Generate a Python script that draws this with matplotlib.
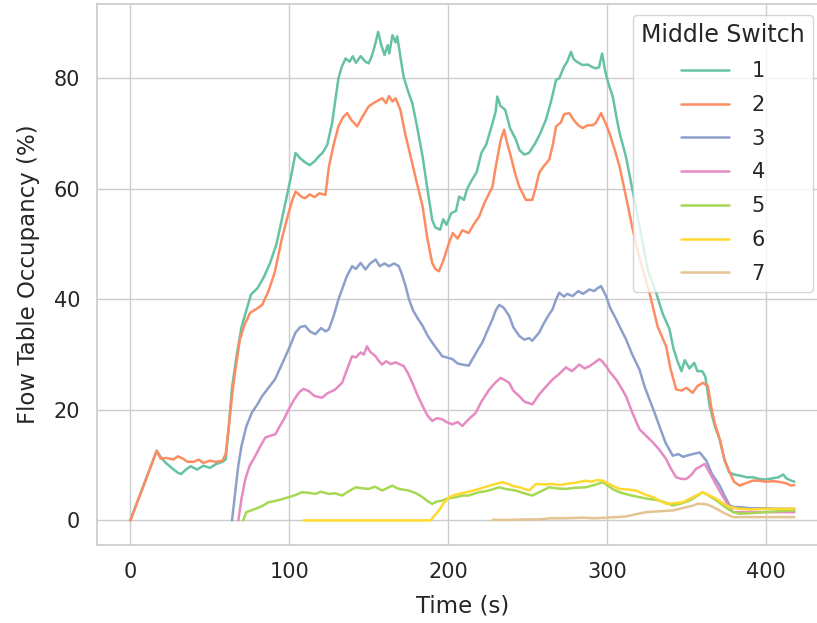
import matplotlib
matplotlib.use('Agg')
import matplotlib.pyplot as plt
import seaborn as sns

# flow table occupancy per middle switch
t1 = [0, 16.6, 19, 22, 26, 30, 32, 35, 38, 42, 46, 50, 54, 58, 60, 62, 64, 67, 70, 73, 76, 80, 84, 88, 92, 95, 98, 101, 104, 107, 110, 113, 116, 119, 121, 124, 127, 129, 131, 133, 135.5, 138, 140, 142, 145, 148, 150, 152, 154, 156, 158, 160, 162, 163, 165, 167, 168, 170, 172, 175, 177.5, 180, 184, 187, 190, 192, 195, 197, 199, 202, 205, 207, 210, 212, 215, 218, 221, 224, 228, 230, 231, 233, 236, 239, 242.7, 245, 248, 251, 255, 258, 261.6, 265, 268, 270, 273, 275, 277.4, 279, 281, 284.7, 288, 291, 293, 295, 297, 299, 301, 303.7, 306, 308, 312, 314, 318, 322, 326, 331, 335, 339.4, 342, 344.7, 347, 349, 352, 355, 357, 360, 362, 364.7, 368, 371, 374, 377, 380, 384, 388, 392, 396, 400, 404, 408, 411, 413, 416, 418]
v1 = [0, 12.6, 11.5, 10.5, 9.5, 8.6, 8.4, 9.2, 9.8, 9.2, 9.9, 9.5, 10.2, 10.6, 11, 17, 24, 30, 35, 38, 40.9, 42, 44, 46.6, 50, 54, 58, 62, 66.5, 65.5, 64.8, 64.3, 65, 66, 66.5, 68, 71.9, 76, 80, 82, 83.6, 83, 84, 82.8, 84, 83, 82.7, 84, 86, 88.4, 86, 84.2, 86, 84.5, 87.8, 86.5, 87.6, 84, 80.3, 77.5, 75.5, 72, 65.8, 60, 54.4, 53, 52.6, 54.5, 53.5, 55.6, 56, 58.6, 58, 60, 61.6, 63, 66.5, 68, 71.9, 74, 76.7, 75, 74.3, 71, 68.9, 67, 66.2, 66.5, 68.3, 70, 72.5, 76, 79.7, 80, 82.1, 83, 84.8, 83.5, 83, 82.4, 82.5, 82, 81.8, 82, 84.5, 81.2, 79, 76.7, 73, 70.1, 65.8, 62.9, 57, 51, 45, 41.2, 37.5, 34.6, 31, 28.6, 27, 29, 27.5, 28.5, 27, 27, 26, 20.7, 17, 14.7, 11, 8.7, 8.3, 8.1, 7.8, 7.8, 7.5, 7.4, 7.6, 7.8, 8.3, 7.6, 7.2, 7]

t2 = [0, 16.6, 19, 23, 27, 30, 33, 36, 40, 43, 46, 50, 54, 58, 60, 62, 64, 66, 69, 72, 75.5, 79, 83, 87, 91, 95, 99, 102, 104, 106, 108, 110, 113, 116, 119, 122.8, 125, 128, 131, 134, 136.5, 139, 142.8, 146, 150, 153, 156, 158.5, 161, 162.8, 165, 167, 170, 173, 176.5, 180, 184, 187, 190, 192, 194.3, 197, 200.6, 203, 206, 209, 213, 216, 219.6, 223, 228, 230, 233.2, 235.3, 237, 239.6, 242, 244.8, 249, 253, 255, 257.4, 260, 263.7, 266, 268, 271, 273, 276.3, 279, 282, 284.7, 288, 291, 293, 296.3, 299, 301.6, 305, 308, 312, 316, 320, 326.8, 332, 337.3, 340, 343.6, 347, 350, 354, 357, 360.4, 363.6, 366, 368, 371, 374, 377.3, 380, 383.6, 388, 392, 396, 400, 405, 410, 413, 416, 418]
v2 = [0, 12.6, 11.2, 11.3, 11, 11.6, 11.2, 10.6, 10.6, 11, 10.4, 10.8, 10.6, 10.8, 12, 17, 22.5, 27, 32.8, 35.5, 37.6, 38.2, 39, 41.5, 45, 50.5, 55, 58, 59.5, 59, 58.5, 58.3, 59, 58.5, 59.2, 58.9, 64, 68, 71.3, 73, 73.7, 72.5, 71.3, 73, 74.9, 75.5, 76, 76.4, 75.5, 76.8, 75.8, 76.4, 74.3, 70, 65.8, 61.5, 56.8, 51, 46.6, 45.5, 45.1, 47, 50.2, 52, 51, 52.5, 52, 53.5, 55, 57.5, 60.4, 64, 68.9, 70.7, 68.5, 65.8, 63, 60.4, 58, 58, 60, 62.9, 64, 65.3, 68, 71.3, 72, 73.5, 73.7, 72.5, 71.5, 71, 71.5, 71.5, 71.9, 73.7, 72, 70.1, 67, 64, 58.6, 53, 48, 41.2, 35, 31.5, 27.5, 23.7, 23.5, 24, 23.1, 24.3, 24.9, 24.3, 20, 17.5, 14.7, 11, 8.7, 7, 6.3, 6.8, 7.2, 7.2, 7.0, 7.1, 6.9, 6.7, 6.3, 6.4]

t3 = [64, 66, 68, 70, 73, 76.5, 80, 83, 87, 91, 95, 99.7, 104, 107, 110, 113, 116.5, 120, 123, 125, 128, 131, 133.3, 136, 139.6, 142, 145, 148, 151, 154.4, 157, 160, 162.8, 166, 169, 171, 173.3, 175.4, 178, 181, 184, 187, 190, 193, 196.4, 199, 202.7, 206, 209, 213, 216, 219, 221.6, 225, 228, 230, 232.2, 235, 238.5, 241, 244.8, 248, 251, 253, 257.4, 260, 263, 265.8, 268, 270, 273, 275, 278.4, 282, 285, 289, 292, 294, 296.3, 299.5, 302, 305.8, 309, 312, 316, 320.5, 324, 326.8, 330, 333, 337, 341.5, 345, 348, 350, 354, 358.4, 362.6, 366, 371, 374, 377.3, 380, 383.6, 390, 400, 410, 418]
v3 = [0, 5, 10, 13.5, 17, 19.5, 21, 22.5, 24, 25.5, 28, 31, 34, 35, 35.2, 34.2, 33.7, 34.8, 34.2, 34.6, 37, 40, 41.8, 44, 46, 45.5, 46.6, 45.4, 46.5, 47.2, 46, 46.5, 46, 46.5, 46, 44.5, 42.4, 40, 38, 36.5, 35.2, 33.5, 32.2, 31, 29.7, 29.5, 29.2, 28.4, 28.2, 28, 29.5, 31, 32.2, 34.5, 36.4, 38, 39, 38.5, 37, 35, 33.4, 32.7, 33, 32.5, 34, 35.5, 37, 38.2, 40, 41.2, 40.5, 41, 40.6, 41.5, 41, 41.8, 41.5, 42, 42.4, 40.6, 38.5, 36.4, 34.5, 32.8, 30, 27.3, 24, 21.9, 19.5, 17.1, 14, 11.7, 12, 11.5, 11.7, 12, 12.3, 10.8, 8.5, 6.3, 4.5, 2.7, 2.4, 2.4, 2.2, 2.2, 2.1, 2.1]

t4 = [68, 70, 72.4, 75, 78.7, 82, 85, 88, 91.3, 94, 97, 99.7, 103, 106, 109, 112.3, 116, 120.7, 124, 127, 129, 133.3, 136, 139.6, 142, 145, 147, 149, 151, 154.4, 156, 158.5, 161, 164, 167, 170, 172.2, 175, 177.5, 181, 184, 187, 190, 193, 196.4, 199, 202.7, 206, 209, 213, 217.5, 221, 226, 230, 233.2, 235, 238.5, 241, 244.8, 248, 253, 255, 257.4, 261, 265.8, 270, 274.2, 278, 282.6, 286, 289, 292, 295.3, 297, 299.5, 302, 305.8, 309, 312, 316, 320.5, 324, 329, 333, 337.3, 340, 343.6, 347, 350, 353, 356, 359, 361.5, 364, 366.8, 370, 375.2, 379.4, 385, 395, 405, 418]
v4 = [0, 4, 7.5, 9.8, 11.7, 13.5, 15, 15.3, 15.6, 17, 18.5, 20.1, 21.8, 23.1, 23.8, 23.4, 22.5, 22.2, 23, 23.4, 23.7, 24.9, 27, 29.7, 29.5, 30.4, 30, 31.5, 30.5, 29.7, 29, 28.2, 28.8, 28.3, 28.6, 28.2, 27.9, 26.5, 24.9, 22.5, 20.7, 19, 18, 18.5, 18.3, 17.8, 17.4, 17.8, 17.1, 18.3, 19.5, 21.5, 23.7, 25, 25.8, 25.5, 24.9, 23.5, 22.5, 21.5, 21, 21.8, 22.8, 24, 25.5, 26.5, 27.7, 27, 28.2, 27.5, 27.9, 28.5, 29.2, 28.8, 27.9, 26.8, 25.5, 24, 22.5, 19.5, 16.5, 15.5, 14.1, 12.8, 11.1, 9.5, 7.8, 7.5, 7.5, 8.2, 9.3, 9.8, 10.2, 9, 7.5, 5.8, 3.3, 1.5, 1.5, 1.5, 1.5, 1.5]

t5 = [71, 73, 76, 78.7, 83, 87, 91, 95, 99.7, 104, 108, 112, 116.5, 120, 125, 129, 133.3, 137, 142, 146, 150, 154, 158.5, 162, 165, 168, 171, 175.4, 180, 184, 187, 190, 193, 196.4, 200, 205, 209, 213, 216, 219.6, 224, 228, 232.2, 236, 242.7, 248, 253, 258, 263.7, 268, 274.2, 280, 286.8, 292, 297.3, 300, 304, 308, 314, 320.5, 326, 333, 337, 341.5, 346, 352, 356, 360.4, 364, 369, 374, 379.4, 383.6, 390, 400, 410, 418]
v5 = [0, 1.5, 1.8, 2.1, 2.6, 3.3, 3.5, 3.8, 4.2, 4.6, 5.1, 5.0, 4.8, 5.2, 4.8, 4.9, 4.5, 5.2, 6, 5.8, 5.7, 6.1, 5.4, 5.9, 6.3, 5.8, 5.6, 5.4, 4.9, 4.2, 3.5, 3, 3.4, 3.6, 4, 4.2, 4.5, 4.5, 4.8, 5.1, 5.3, 5.6, 6, 5.7, 5.4, 4.9, 4.5, 5.2, 6, 5.8, 5.7, 5.9, 6, 6.4, 6.9, 6.4, 5.6, 5.1, 4.6, 4.2, 3.9, 3.6, 3.2, 2.7, 3, 3.6, 4.3, 5.1, 4.5, 3.6, 2.5, 1.5, 1.2, 1.3, 1.5, 1.7, 1.8]

t6 = [109, 189, 191, 194.3, 197, 200.6, 204, 207, 213, 219.6, 225, 230, 234.3, 238, 241, 244.8, 248, 251, 255.3, 260, 265.8, 270, 274.2, 280, 286.8, 290, 294, 297.3, 300, 304, 308, 313, 318.4, 323, 329, 333, 337.3, 342, 348, 352, 356, 360.4, 364, 369, 373, 377.3, 383.6, 390, 400, 410, 418]
v6 = [0, 0, 0.7, 1.8, 3, 4.2, 4.6, 4.8, 5.2, 5.7, 6.2, 6.6, 6.9, 6.6, 6.2, 6, 5.7, 5.4, 6.6, 6.5, 6.6, 6.4, 6.6, 6.8, 7.2, 7, 7.3, 7.2, 6.8, 6.2, 5.7, 5.6, 5.4, 4.8, 4.2, 3.6, 3, 3.1, 3.3, 3.9, 4.5, 5.1, 4.6, 3.9, 3.1, 2.4, 2.1, 2.0, 2.1, 2.1, 2.1]

t7 = [228, 240, 250, 258, 265, 275, 285, 292, 299.5, 306, 312, 318, 324.7, 330, 336, 341.5, 346, 350, 354.5, 357, 360.4, 364, 369, 374, 379.4, 390, 400, 410, 418]
v7 = [0.1, 0.1, 0.2, 0.2, 0.4, 0.4, 0.5, 0.4, 0.5, 0.6, 0.7, 1.1, 1.5, 1.6, 1.7, 1.8, 2.1, 2.4, 2.7, 3, 3, 2.8, 2.1, 1.3, 0.6, 0.6, 0.6, 0.6, 0.6]

labels = ['1', '2', '3', '4', '5', '6', '7']

sns.set_theme(style='whitegrid')
colors = sns.color_palette('Set2', 7)

fig = plt.figure(figsize=(8.17, 6.23), dpi=100)
ax = fig.add_axes([0.1187, 0.1252, 0.8944, 0.8684])

series = [(t1, v1), (t2, v2), (t3, v3), (t4, v4), (t5, v5), (t6, v6), (t7, v7)]
for (t, v), lab, c in zip(series, labels, colors):
    ax.plot(t, v, color=c, lw=1.8, label=lab)

ax.set_xlim(-21, 439)
ax.set_ylim(-4.45, 93.45)
ax.set_xticks([0, 100, 200, 300, 400])
ax.set_yticks([0, 20, 40, 60, 80])
ax.tick_params(axis='x', labelsize=15, pad=12, length=0)
ax.tick_params(axis='y', labelsize=15, pad=12, length=0)
ax.set_xlabel('Time (s)', fontsize=16.5, labelpad=9)
ax.set_ylabel('Flow Table Occupancy (%)', fontsize=16.5, labelpad=10)

leg = ax.legend(title='Middle Switch', fontsize=15, title_fontsize=17,
                loc='upper right', bbox_to_anchor=(813 / 817, 1 - 15 / 623),
                bbox_transform=fig.transFigure, borderaxespad=0,
                handlelength=2.3, handletextpad=1.1, labelspacing=0.66)

fig.savefig('out.png', dpi=100)
